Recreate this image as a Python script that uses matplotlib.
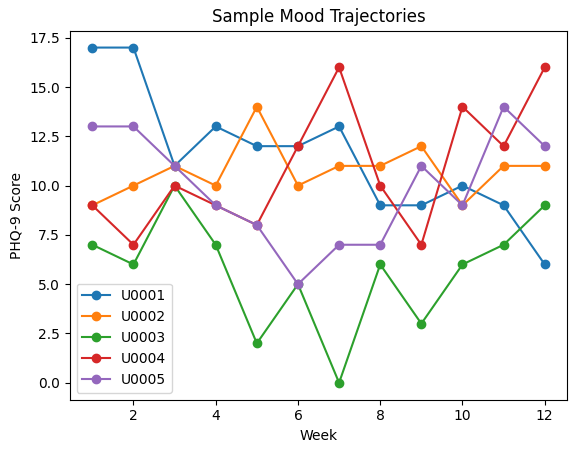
import matplotlib.pyplot as plt

weeks = list(range(1, 13))
user_ids = ["U0001", "U0002", "U0003", "U0004", "U0005"]
u0001 = [17, 17, 11, 13, 12, 12, 13, 9, 9, 10, 9, 6]
u0002 = [9, 10, 11, 10, 14, 10, 11, 11, 12, 9, 11, 11]
u0003 = [7, 6, 10, 7, 2, 5, 0, 6, 3, 6, 7, 9]
u0004 = [9, 7, 10, 9, 8, 12, 16, 10, 7, 14, 12, 16]
u0005 = [13, 13, 11, 9, 8, 5, 7, 7, 11, 9, 14, 12]
scores = [u0001, u0002, u0003, u0004, u0005]

fig, ax = plt.subplots(figsize=(5.76, 4.53), dpi=100)
fig.subplots_adjust(left=0.121, right=0.985, top=0.932, bottom=0.118)

for uid, s in zip(user_ids, scores):
    ax.plot(weeks, s, marker="o", label=uid)

ax.set_title("Sample Mood Trajectories")
ax.set_xlabel("Week")
ax.set_ylabel("PHQ-9 Score")
ax.legend(loc="lower left")

fig.savefig("out.png")
